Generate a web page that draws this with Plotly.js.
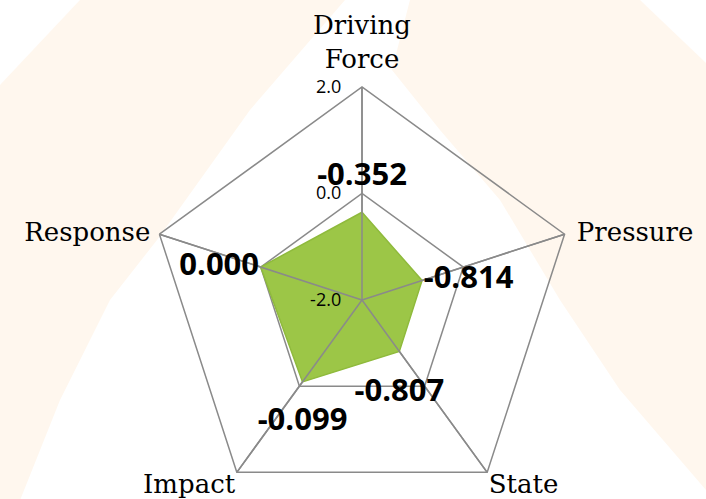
<!DOCTYPE html>
<html>
<head>
<meta charset="utf-8">
<script src="https://cdn.plot.ly/plotly-3.0.1.min.js"></script>
<style>
  html, body { margin: 0; padding: 0; background: #fff7ee; overflow: hidden; }
  #chart { width: 706px; height: 513px; }
</style>
</head>
<body>
<div id="chart"></div>
<script>
// DPSIR radar - scores
const categories = ["Driving<br>Force", "Pressure", "State", "Impact", "Response"];
const scores = [-0.352, -0.814, -0.807, -0.099, 0.000];
const radialRange = [-2, 2];
const radialTicks = [-2, 0, 2];

const W = 706, H = 513;

// pale watermark in the background: white areas cut out of the cream page
function pxPath(pts) {
    return pts.map((p, i) => (i ? "L" : "M") + (p[0] / W).toFixed(4) + "," + (1 - p[1] / H).toFixed(4)).join(" ") + " Z";
}
const whiteAreas = [
    [[0, 0], [80, 0], [0, 85]],
    [[640, 0], [706, 0], [706, 63]],
    [[345, 0], [410, 0], [392, 70], [440, 130], [500, 200], [560, 300], [620, 390], [706, 490],
     [706, 513], [15, 513], [60, 400], [110, 300], [157, 240], [250, 110]]
];
const bgShapes = whiteAreas.map(pts => ({
    type: "path", xref: "paper", yref: "paper", layer: "below",
    path: pxPath(pts), fillcolor: "#ffffff", line: { width: 0 }
}));

const gridGray = "#8a8a8a";
const noMarker = { color: "rgba(0,0,0,0)", line: { width: 0 } };

// data polygon
const polyTrace = {
    type: "scatterpolar",
    r: scores.concat([scores[0]]),
    theta: categories.concat([categories[0]]),
    mode: "lines",
    fill: "toself",
    fillcolor: "#9cc647",
    line: { color: "#8fba3c", width: 1.5 },
    hoverinfo: "skip"
};

// spokes again on top of the fill (as in the original)
const spokeR = [], spokeT = [];
categories.forEach(c => {
    spokeR.push(radialRange[0], radialRange[1], null);
    spokeT.push(c, c, c);
});
const spokeTrace = {
    type: "scatterpolar",
    r: spokeR, theta: spokeT,
    mode: "lines",
    connectgaps: false,
    line: { color: gridGray, width: 1.5 },
    hoverinfo: "skip"
};

// value labels - on an overlaid circular subplot, the pentagon one hides points with r < 0
const labelTrace = {
    type: "scatterpolar",
    subplot: "polar2",
    r: scores,
    theta: categories,
    mode: "markers+text",
    marker: Object.assign({ size: [29, 1, 40, 38, 1] }, noMarker),
    text: scores.map(v => "<b>" + v.toFixed(3) + "</b>"),
    textposition: ["top center", "middle right", "bottom center", "bottom center", "middle left"],
    textfont: { family: "Open Sans", size: 31, color: "#000000" },
    cliponaxis: false,
    hoverinfo: "skip"
};

// category names at the outer ring
const catTrace = {
    type: "scatterpolar",
    r: categories.map(() => radialRange[1]),
    theta: categories,
    mode: "markers+text",
    marker: Object.assign({ size: [18, 18, 1, 1, 13] }, noMarker),
    text: categories,
    textposition: ["top center", "middle right", "bottom right", "bottom left", "middle left"],
    textfont: { family: "DejaVu Serif", size: 26, color: "#000000" },
    cliponaxis: false,
    hoverinfo: "skip"
};

const polarDomain = { x: [149 / W, 575 / W], y: [0, 426 / H] };
const angularBase = {
    type: "category",
    categoryarray: categories,
    rotation: 90,
    direction: "clockwise"
};

Plotly.newPlot("chart", [polyTrace, spokeTrace, catTrace, labelTrace], {
    width: W,
    height: H,
    margin: { t: 0, b: 0, l: 0, r: 0 },
    paper_bgcolor: "#fff7ee",
    showlegend: false,
    shapes: bgShapes,
    polar: {
        domain: polarDomain,
        bgcolor: "rgba(0,0,0,0)",
        gridshape: "linear",
        radialaxis: {
            range: radialRange,
            tickvals: radialTicks,
            ticktext: radialTicks.map(v => v.toFixed(1)),
            angle: 90,
            tickangle: 90,
            side: "counterclockwise",
            ticks: "outside",
            ticklen: 14,
            tickcolor: "rgba(0,0,0,0)",
            showline: false,
            gridcolor: gridGray,
            gridwidth: 1.5,
            tickfont: { family: "Open Sans", size: 18, color: "#000000" }
        },
        angularaxis: Object.assign({
            ticks: "",
            showticklabels: false,
            showline: true,
            linecolor: gridGray,
            linewidth: 1.5,
            gridcolor: gridGray,
            gridwidth: 1.5
        }, angularBase)
    },
    polar2: {
        domain: polarDomain,
        bgcolor: "rgba(0,0,0,0)",
        gridshape: "circular",
        radialaxis: { range: radialRange, visible: false },
        angularaxis: Object.assign({ visible: false }, angularBase)
    }
}, { displayModeBar: false, staticPlot: true });
</script>
</body>
</html>
